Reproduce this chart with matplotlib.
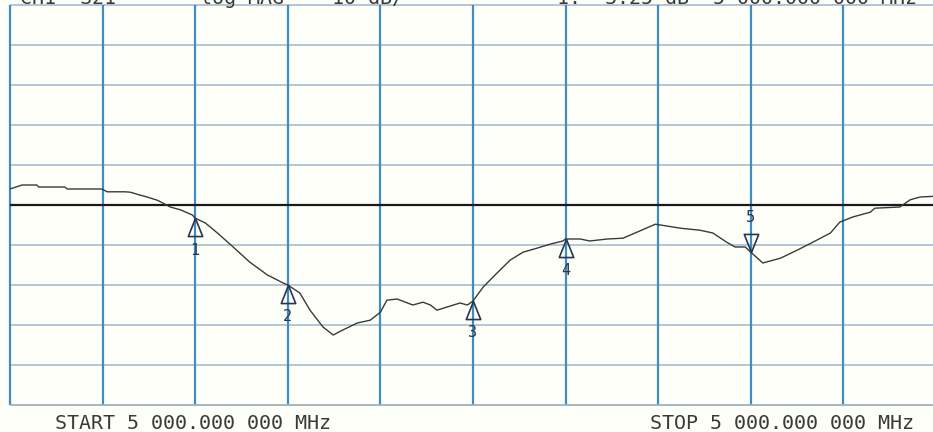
import numpy as np
import matplotlib.pyplot as plt
from matplotlib.path import Path

# trace, in graticule divisions (0 = reference line)
trace_x = [0.00, 0.13, 0.29, 0.31, 0.59, 0.62, 0.99, 1.05, 1.24, 1.30, 1.40, 1.48,
           1.59, 1.65, 1.73, 1.84, 1.97, 2.00, 2.11, 2.24, 2.41, 2.59, 2.78, 2.95,
           3.00, 3.13, 3.24, 3.38, 3.49, 3.59, 3.75, 3.89, 4.00, 4.07, 4.18, 4.27,
           4.35, 4.46, 4.54, 4.61, 4.72, 4.86, 4.94, 5.00, 5.11, 5.26, 5.40, 5.54,
           5.69, 5.83, 5.97, 6.00, 6.16, 6.26, 6.45, 6.62, 6.70, 6.97, 7.24, 7.45,
           7.59, 7.74, 7.83, 7.94, 8.00, 8.13, 8.32, 8.50, 8.67, 8.86, 8.96, 9.10,
           9.29, 9.34, 9.61, 9.72, 9.83, 10.0]
trace_y = [0.40, 0.50, 0.50, 0.45, 0.45, 0.40, 0.40, 0.33, 0.33, 0.32, 0.25, 0.20,
           0.12, 0.05, -0.05, -0.12, -0.25, -0.33, -0.45, -0.70, -1.05, -1.43, -1.75, -1.95,
           -2.00, -2.20, -2.63, -3.05, -3.25, -3.13, -2.95, -2.88, -2.68, -2.38, -2.35, -2.43,
           -2.50, -2.43, -2.50, -2.63, -2.55, -2.45, -2.50, -2.40, -2.05, -1.70, -1.38, -1.18,
           -1.08, -0.98, -0.90, -0.85, -0.85, -0.90, -0.85, -0.83, -0.75, -0.48, -0.58, -0.63,
           -0.70, -0.93, -1.05, -1.05, -1.18, -1.45, -1.33, -1.13, -0.93, -0.70, -0.43, -0.30,
           -0.18, -0.08, -0.05, 0.13, 0.20, 0.22]

marker_x = [2, 3, 5, 6, 8]
marker_names = ['1', '2', '3', '4', '5']
marker_up = [True, True, True, True, False]

header_left = 'CH1  S21       log MAG    10 dB/'
header_right = '1: -3.25 dB  5 000.000 000 MHz'
start_text = 'START 5 000.000 000 MHz'
stop_text = 'STOP 5 000.000 000 MHz'

fig = plt.figure(figsize=(9.33, 4.32), dpi=100)
fig.patch.set_facecolor('#fffffa')
ax = fig.add_axes([10 / 933, 27 / 432, 926 / 933, 400 / 432])
ax.set_xlim(0, 10)
ax.set_ylim(-5, 5)
ax.axis('off')

# graticule
ax.hlines(np.arange(-5, 6), 0, 10, color='#9db7cb', lw=1.1, clip_on=False, zorder=1)
ax.vlines(np.arange(0, 11), -5, 5, color='#3f8cc0', lw=1.6, clip_on=False, zorder=2)
ax.hlines(-5, 0, 10, color='#a9b4bc', lw=1.1, clip_on=False, zorder=2)
ax.axhline(0, color='#1a1a1a', lw=1.6, zorder=3)

ax.plot(trace_x, trace_y, color='#3a3a3a', lw=1.0, zorder=4)

# marker triangles, tip sitting on the trace
tri_up = Path([(0, 0), (-0.4, -1), (0.4, -1), (0, 0)],
              [Path.MOVETO, Path.LINETO, Path.LINETO, Path.CLOSEPOLY])
tri_down = Path([(0, 0), (-0.4, 1), (0.4, 1), (0, 0)],
                [Path.MOVETO, Path.LINETO, Path.LINETO, Path.CLOSEPOLY])
for mx, name, up in zip(marker_x, marker_names, marker_up):
    my = np.interp(mx, trace_x, trace_y)
    ax.plot([mx], [my], marker=tri_up if up else tri_down, ms=26,
            mfc='none', mec='#2a3550', mew=1.2, zorder=5)
    off = -23 if up else 25
    ax.annotate(name, (mx, my), xytext=(0, off), textcoords='offset points',
                ha='center', va='center', fontsize=11, color='#2a3550',
                family='DejaVu Sans Mono')

txt = dict(family='DejaVu Sans Mono', color='#3a3a3a', fontsize=14.4,
           ha='left', va='baseline')
fig.text(55 / 933, 1 - 429 / 432, start_text, **txt)
fig.text(650 / 933, 1 - 429 / 432, stop_text, **txt)
fig.text(20 / 933, 1 - 4 / 432, header_left, **txt)
fig.text(557 / 933, 1 - 4 / 432, header_right, **txt)

fig.savefig('out.png', dpi=100, facecolor=fig.get_facecolor())
